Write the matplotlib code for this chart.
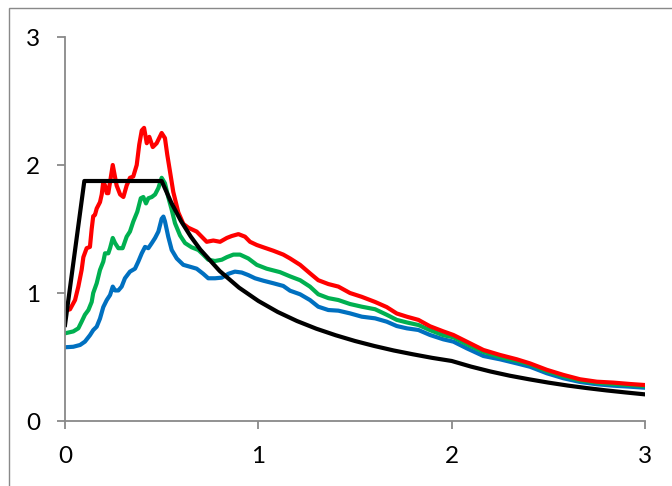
import matplotlib
matplotlib.use("Agg")
import matplotlib.pyplot as plt
from matplotlib.patches import Rectangle

# ── Data (period vs spectral value) ─────────────────────────────────────────
# design spectrum (black)
t_code = [0, 0.1, 0.5, 0.55, 0.6, 0.65, 0.7, 0.8, 0.9, 1.0, 1.1, 1.2, 1.3, 1.4,
          1.5, 1.6, 1.7, 1.8, 1.9, 2.0, 2.1, 2.2, 2.3, 2.4, 2.5, 2.6, 2.7, 2.8,
          2.9, 3.0]
sa_code = [0.75, 1.875, 1.875, 1.705, 1.562, 1.442, 1.339, 1.172, 1.042, 0.938,
           0.852, 0.781, 0.721, 0.670, 0.625, 0.586, 0.551, 0.521, 0.493, 0.469,
           0.425, 0.387, 0.354, 0.326, 0.300, 0.277, 0.257, 0.239, 0.223, 0.208]

# red record
t_red = [0.0, 0.026, 0.052, 0.069, 0.086, 0.095, 0.112, 0.129, 0.138, 0.146,
         0.155, 0.164, 0.181, 0.190, 0.198, 0.207, 0.216, 0.224, 0.247, 0.267,
         0.285, 0.302, 0.319, 0.336, 0.353, 0.371, 0.384, 0.397, 0.409, 0.423,
         0.436, 0.454, 0.474, 0.500, 0.517, 0.529, 0.543, 0.560, 0.586, 0.612,
         0.638, 0.681, 0.707, 0.733, 0.767, 0.802, 0.837, 0.862, 0.897, 0.931,
         0.957, 0.992, 1.026, 1.078, 1.129, 1.164, 1.216, 1.267, 1.310, 1.362,
         1.414, 1.474, 1.535, 1.604, 1.664, 1.716, 1.768, 1.828, 1.888, 1.957,
         2.009, 2.078, 2.164, 2.250, 2.337, 2.405, 2.492, 2.578, 2.664, 2.751,
         2.836, 2.923, 3.0]
sa_red = [0.86, 0.873, 0.945, 1.05, 1.18, 1.28, 1.35, 1.36, 1.50, 1.60,
          1.61, 1.66, 1.71, 1.77, 1.87, 1.84, 1.78, 1.78, 2.0, 1.84,
          1.77, 1.75, 1.84, 1.90, 1.91, 2.0, 2.16, 2.27, 2.29, 2.17,
          2.22, 2.14, 2.17, 2.25, 2.21, 2.08, 1.95, 1.79, 1.63, 1.54,
          1.51, 1.48, 1.44, 1.40, 1.41, 1.40, 1.43, 1.445, 1.46, 1.44,
          1.40, 1.375, 1.357, 1.33, 1.30, 1.27, 1.22, 1.154, 1.10, 1.07,
          1.05, 1.00, 0.97, 0.93, 0.89, 0.84, 0.815, 0.79, 0.74, 0.70,
          0.672, 0.62, 0.555, 0.516, 0.482, 0.45, 0.40, 0.36, 0.326, 0.307,
          0.30, 0.289, 0.281]

# green record
t_green = [0.0, 0.043, 0.069, 0.086, 0.103, 0.121, 0.138, 0.146, 0.164, 0.181,
           0.198, 0.207, 0.224, 0.233, 0.247, 0.259, 0.276, 0.298, 0.319, 0.336,
           0.353, 0.374, 0.392, 0.405, 0.419, 0.431, 0.449, 0.466, 0.483, 0.500,
           0.517, 0.534, 0.552, 0.569, 0.595, 0.621, 0.655, 0.690, 0.715, 0.741,
           0.776, 0.811, 0.837, 0.871, 0.905, 0.948, 0.992, 1.043, 1.112, 1.164,
           1.216, 1.267, 1.310, 1.362, 1.414, 1.474, 1.535, 1.604, 1.664, 1.716,
           1.768, 1.828, 1.888, 1.957, 2.009, 2.078, 2.164, 2.250, 2.337, 2.405,
           2.492, 2.578, 2.664, 2.751, 2.836, 2.923, 3.0]
sa_green = [0.685, 0.70, 0.724, 0.776, 0.83, 0.867, 0.93, 1.0, 1.076, 1.18,
            1.245, 1.31, 1.31, 1.35, 1.43, 1.39, 1.35, 1.35, 1.44, 1.48,
            1.557, 1.635, 1.74, 1.75, 1.70, 1.74, 1.75, 1.77, 1.82, 1.90,
            1.857, 1.75, 1.65, 1.545, 1.45, 1.39, 1.357, 1.336, 1.30, 1.26,
            1.25, 1.26, 1.28, 1.30, 1.30, 1.27, 1.22, 1.19, 1.163, 1.13,
            1.10, 1.05, 0.99, 0.96, 0.945, 0.914, 0.893, 0.873, 0.83, 0.79,
            0.77, 0.75, 0.71, 0.67, 0.654, 0.60, 0.54, 0.50, 0.47, 0.443,
            0.39, 0.35, 0.318, 0.30, 0.289, 0.281, 0.273]

# blue record
t_blue = [0.0, 0.043, 0.078, 0.103, 0.129, 0.146, 0.164, 0.181, 0.198, 0.216,
          0.233, 0.247, 0.259, 0.276, 0.293, 0.310, 0.336, 0.362, 0.379, 0.397,
          0.414, 0.431, 0.449, 0.466, 0.483, 0.500, 0.509, 0.517, 0.534, 0.552,
          0.578, 0.612, 0.647, 0.681, 0.715, 0.741, 0.776, 0.811, 0.845, 0.879,
          0.914, 0.948, 0.983, 1.026, 1.078, 1.129, 1.164, 1.216, 1.267, 1.310,
          1.362, 1.414, 1.474, 1.535, 1.604, 1.664, 1.716, 1.768, 1.828, 1.888,
          1.957, 2.009, 2.078, 2.164, 2.250, 2.337, 2.405, 2.492, 2.578, 2.664,
          2.751, 2.836, 2.923, 3.0]
sa_blue = [0.576, 0.58, 0.594, 0.62, 0.67, 0.71, 0.737, 0.80, 0.89, 0.945,
           0.984, 1.05, 1.02, 1.02, 1.05, 1.115, 1.167, 1.19, 1.245, 1.31,
           1.36, 1.35, 1.39, 1.43, 1.48, 1.58, 1.597, 1.56, 1.44, 1.336,
           1.27, 1.22, 1.205, 1.19, 1.15, 1.115, 1.115, 1.12, 1.15, 1.167,
           1.16, 1.14, 1.115, 1.096, 1.076, 1.055, 1.018, 0.99, 0.945, 0.893,
           0.867, 0.862, 0.841, 0.815, 0.802, 0.776, 0.742, 0.724, 0.711, 0.672,
           0.638, 0.62, 0.568, 0.508, 0.482, 0.45, 0.424, 0.373, 0.334, 0.305,
           0.287, 0.276, 0.268, 0.26]

ticks = [0, 1, 2, 3]

# ── Figure ──────────────────────────────────────────────────────────────────
fig = plt.figure(figsize=(6.72, 4.86), dpi=100)
fig.patches.append(Rectangle((9 / 672, -0.05), 1.1, 1 - 8 / 486 + 0.05,
                             transform=fig.transFigure, fill=False,
                             edgecolor="#898989", linewidth=1.0))
ax = fig.add_axes([65 / 672, 65 / 486, 580 / 672, 384 / 486])

lw = 3.0
ax.plot(t_blue, sa_blue, color="#0070C0", linewidth=lw, solid_joinstyle="round")
ax.plot(t_green, sa_green, color="#00B050", linewidth=lw, solid_joinstyle="round")
ax.plot(t_red, sa_red, color="#FF0000", linewidth=lw, solid_joinstyle="round")
ax.plot(t_code, sa_code, color="black", linewidth=lw, solid_joinstyle="round")

ax.set_xlim(0, 3)
ax.set_ylim(0, 3)
ax.set_xticks(ticks)
ax.set_yticks(ticks)
ax.set_xticklabels([str(t) for t in ticks])
ax.set_yticklabels([str(t) for t in ticks])
for lab in ax.get_xticklabels() + ax.get_yticklabels():
    lab.set_fontfamily("Lato")
    lab.set_fontsize(17.5)
ax.tick_params(axis="both", direction="out", length=5.5, width=1.3,
               color="#898989", labelcolor="black")
ax.tick_params(axis="x", pad=12.5)
ax.tick_params(axis="y", pad=12.5)

ax.spines["top"].set_visible(False)
ax.spines["right"].set_visible(False)
for s in ("left", "bottom"):
    ax.spines[s].set_color("#898989")
    ax.spines[s].set_linewidth(1.3)

fig.savefig("out.png", dpi=100, facecolor="white")
